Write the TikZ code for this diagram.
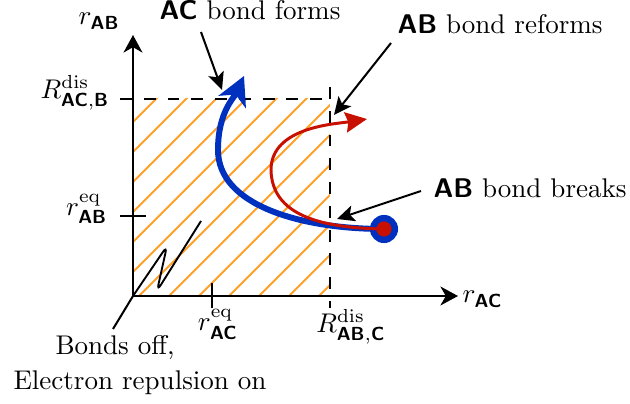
\documentclass[tikz,border=0pt]{standalone}
\usepackage{amsmath}
\usetikzlibrary{arrows.meta}
\definecolor{hatchc}{RGB}{255,160,40}
\definecolor{myblue}{RGB}{0,48,190}
\definecolor{myred}{RGB}{200,16,0}
\newcommand{\sfb}[1]{\textsf{\textbf{#1}}}
\begin{document}
\begin{tikzpicture}[x=0.37pt,y=-0.37pt,
  lbl/.style={inner sep=0pt},
  axisline/.style={line width=0.8pt,-{Stealth[length=6.5pt,width=7pt,inset=2pt]}},
  dashline/.style={line width=0.8pt,dash pattern=on 4.4pt off 4.4pt},
  tickline/.style={line width=0.8pt},
  hatchline/.style={hatchc,line width=0.7pt},
  pointer/.style={line width=0.75pt,-{Stealth[length=6.5pt,width=6pt,inset=1.5pt]}},
  bluepath/.style={myblue,line width=2.2pt,-{Stealth[length=10.5pt,width=11pt,inset=3pt]}},
  redpath/.style={myred,line width=1.1pt,-{Stealth[length=8pt,width=7.5pt,inset=1pt]}},
  dot/.style={circle,inner sep=0pt}]
\useasboundingbox (0,0) rectangle (630,404);
% coordinates
\coordinate (O) at (133,296);
\coordinate (xend) at (458,296);
\coordinate (yend) at (133,35);
\coordinate (st) at (384,229);
% hatch
\begin{scope}
  \clip (133,99) rectangle (330,296);
  \foreach \c in {255,285,...,615} \draw[hatchline] (\c-400,400) -- (\c,0);
\end{scope}
% dashed limits
\coordinate (hd1) at (120,99);
\coordinate (hd2) at (330,99);
\coordinate (vd1) at (330,87);
\coordinate (vd2) at (330,308);
\draw[dashline] (hd1) -- (hd2);
\draw[dashline] (vd1) -- (vd2);
% axes
\draw[axisline] (O) -- (xend);
\draw[axisline] (O) -- (yend);
% ticks
\coordinate (t1a) at (212,283);
\coordinate (t1b) at (212,308);
\coordinate (t2a) at (120,216);
\coordinate (t2b) at (146,216);
\draw[tickline] (t1a) -- (t1b);
\draw[tickline] (t2a) -- (t2b);
% zigzag
\coordinate (z1) at (167,246);
\coordinate (z2) at (157,291);
\coordinate (z3) at (201,221);
\draw[line width=0.7pt,rounded corners=2.5pt] (O) -- (z1) -- (z2) -- (z3);
% axis labels
\node[lbl,anchor=base west] (ry) at (78,25) {$r_{\sfb{AB}}$};
\node[lbl,anchor=base west] (rx) at (462,303) {$r_{\sfb{AC}}$};
\node[lbl,anchor=east] (Rdy) at (110,93) {$R^{\mathrm{dis}}_{\sfb{AC},\sfb{B}}$};
\node[lbl,anchor=east] (rey) at (108,209) {$r^{\mathrm{eq}}_{\sfb{AB}}$};
\node[lbl,anchor=north] (rex) at (218,309) {$r^{\mathrm{eq}}_{\sfb{AC}}$};
\node[lbl,anchor=north] (Rdx) at (351,309) {$R^{\mathrm{dis}}_{\sfb{AB},\sfb{C}}$};
% paths
\draw[bluepath] (st) .. controls (300,229) and (218,205) .. (218,150)
  .. controls (218,112) and (234,98) .. (244,76);
\node[dot,fill=myblue,minimum size=10.4pt] (bc) at (st) {};
\draw[redpath] (st) .. controls (320,228) and (272,215) .. (271,170)
  .. controls (271,127) and (335,124) .. (367,119);
\node[dot,fill=myred,minimum size=5.6pt] (rc) at (st) {};
% annotations
\node[lbl,anchor=base west] (acf) at (159,20) {\sfb{AC} bond forms};
\node[lbl,anchor=base west] (abr) at (397,34) {\sfb{AB} bond reforms};
\node[lbl,anchor=base west] (abb) at (433,197) {\sfb{AB} bond breaks};
\node[lbl,anchor=base west] (bo1) at (55,355) {Bonds off,};
\node[lbl,anchor=base west] (bo2) at (13,390) {Electron repulsion on};
\coordinate (a1s) at (201,32);
\coordinate (a1t) at (222,90);
\coordinate (a2s) at (391,43);
\coordinate (a2t) at (334,115);
\coordinate (a3s) at (421,191);
\coordinate (a3t) at (337,219);
\coordinate (a4s) at (113,329);
\draw[pointer] (a1s) -- (a1t);
\draw[pointer] (a2s) -- (a2t);
\draw[pointer] (a3s) -- (a3t);
\draw[line width=0.75pt] (a4s) -- (O);
\end{tikzpicture}
\end{document}
